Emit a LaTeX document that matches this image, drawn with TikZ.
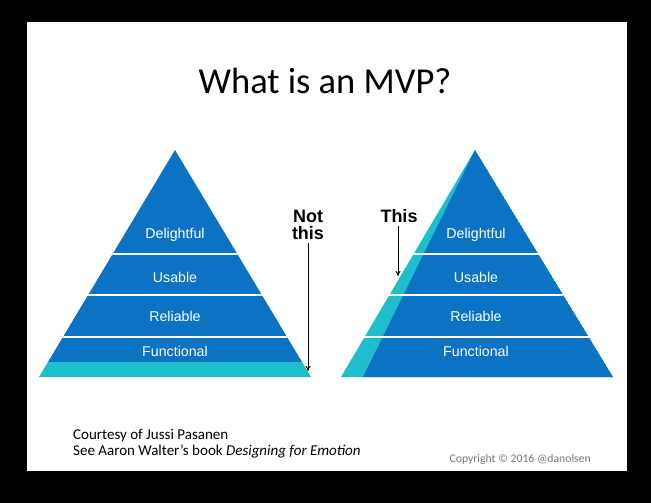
\documentclass[tikz,border=0pt]{standalone}
\usepackage{fontspec}
\setmainfont{Carlito}
\newfontfamily\heros{Liberation Sans}
\usetikzlibrary{arrows.meta, positioning}

\definecolor{mvpblue}{RGB}{11,114,196}
\definecolor{mvpteal}{RGB}{30,190,205}
\definecolor{copygray}{RGB}{120,120,120}

\tikzset{
    layer/.style={text=white, font=\heros\fontsize{14.2}{14}\selectfont, inner sep=0pt},
    callout/.style={font=\heros\bfseries\fontsize{18}{17}\selectfont, align=center, inner sep=0pt},
    credit/.style={anchor=base west, font=\fontsize{15}{15}\selectfont, inner sep=0pt},
    sep/.style={draw=white, line width=1.4pt},
    pointer/.style={-{To[length=5pt,width=5pt]}, line width=0.9pt}
}

\begin{document}
\begin{tikzpicture}[x=1pt, y=-1pt]
    % frame and slide
    \fill[black] (0,0) rectangle (651,503);
    \fill[white] (27,22) rectangle (627,471);

    \node[font=\fontsize{36.5}{36.5}\selectfont, anchor=base, inner sep=0pt] (title) at (325,93) {What is an MVP?};

    % left pyramid: wide base first
    \begin{scope}
        \clip (175,150) -- (311,377) -- (39,377) -- cycle;
        \fill[mvpblue] (0,140) rectangle (651,362);
        \fill[mvpteal] (0,362) rectangle (651,380);
        \foreach \y in {254,295,337}
            \draw[sep] (0,\y) -- (651,\y);
    \end{scope}

    % right pyramid: thin slice on every layer
    \begin{scope}
        \clip (475,150) -- (613,377) -- (341,377) -- cycle;
        \fill[mvpteal] (330,140) rectangle (651,380);
        \fill[mvpblue] (475,150) -- (613,377) -- (363,377) -- cycle;
        \foreach \y in {254,295,337}
            \draw[sep] (330,\y) -- (651,\y);
    \end{scope}

    \foreach \name/\x in {L/175, R/476} {
        \node[layer] (delight\name) at (\x,235) {Delightful};
        \node[layer] (usable\name) at (\x,277) {Usable};
        \node[layer] (reliable\name) at (\x,316) {Reliable};
        \node[layer] (functional\name) at (\x,351) {Functional};
    }

    \node[callout] (notthis) at (308,225) {Not\\this};
    \coordinate (notend) at (308,371);
    \draw[pointer] (notthis.south) ++(0,3) -- (notend);

    \node[callout] (this) at (399,216) {This};
    \coordinate (thisend) at (398,276);
    \draw[pointer] (this.south) ++(-1,3) -- (thisend);

    % credits
    \node[credit] (courtesy) at (73,439) {Courtesy of Jussi Pasanen};
    \node[credit] (book) at (73,455) {See Aaron Walter’s book \textit{Designing for Emotion}};
    \node[anchor=base east, font=\fontsize{11.7}{12}\selectfont, text=copygray, inner sep=0pt] (copyright) at (591,462) {Copyright © 2016 @danolsen};
\end{tikzpicture}
\end{document}
